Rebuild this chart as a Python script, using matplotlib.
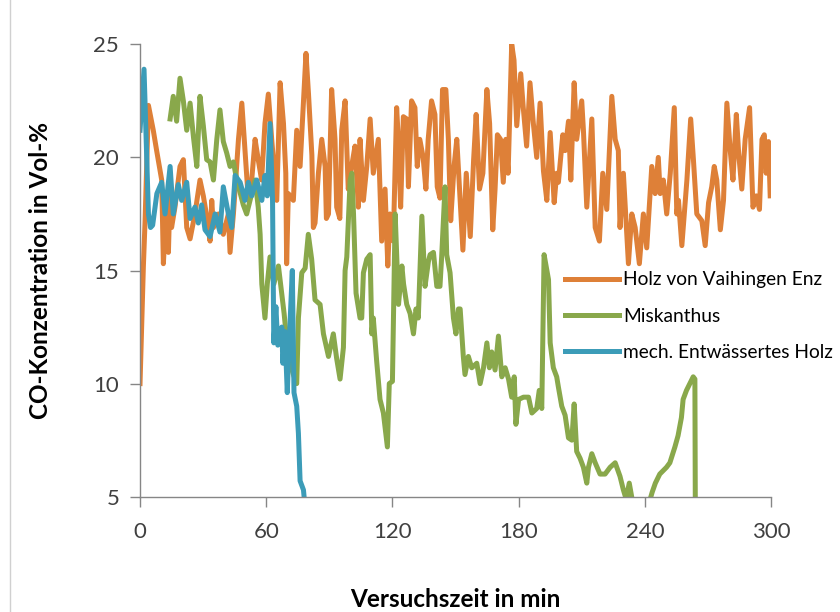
import matplotlib
matplotlib.use("Agg")
import matplotlib.pyplot as plt
from matplotlib.lines import Line2D

plt.rcParams['font.family'] = ['Lato', 'DejaVu Sans']

# Holz von Vaihingen Enz
holz_t = [0, 1.6, 2.4, 4.0, 6.3, 7.9, 10.3, 11.1, 12.3, 13.5, 14.3, 15.0, 16.6, 19.0, 20.6,
          22.2, 23.8, 26.1, 28.5, 30.1, 31.7, 33.3, 34.1, 34.9, 37.3, 39.6, 42.0, 42.8, 44.4,
          46.8, 48.4, 49.9, 51.5, 53.1, 54.7, 56.2, 57.8, 59.4, 61.0, 62.6, 65.0, 66.6, 68.2,
          69.3, 69.7, 70.5, 72.9, 74.5, 76.1, 77.7, 78.9, 80.1, 81.7, 82.4, 83.2, 84.8, 86.4,
          88.0, 88.6, 89.6, 91.1, 92.7, 93.5, 95.0, 95.9, 97.5, 99.0, 100.6, 102.2, 103.8,
          104.6, 106.2, 107.8, 109.4, 110.9, 113.3, 114.9, 116.5, 117.8, 118.8, 120.4, 122.0,
          122.8, 123.9, 125.2, 126.8, 127.6, 129.1, 130.7, 131.8, 133.0, 134.6, 135.9, 137.0,
          138.6, 140.2, 141.3, 142.6, 143.8, 145.4, 146.6, 147.7, 149.3, 150.6, 151.9, 153.5,
          155.1, 157.0, 158.6, 159.8, 161.4, 163.0, 164.9, 166.2, 167.7, 168.8, 169.9, 171.4,
          172.7, 173.9, 175.0, 176.7, 177.8, 179.1, 181.0, 182.2, 183.8, 185.4, 187.0, 188.6,
          190.2, 191.8, 193.4, 195.0, 196.9, 198.1, 198.9, 201.0, 202.1, 203.7, 204.8, 206.4,
          207.6, 210.0, 210.8, 212.4, 214.8, 216.4, 218.4, 220.0, 221.9, 224.3, 225.9, 227.4,
          228.2, 229.8, 232.2, 233.8, 235.4, 237.4, 239.3, 240.9, 243.3, 244.9, 246.4, 247.3,
          248.8, 250.4, 252.1, 254.0, 255.2, 256.0, 257.6, 260.0, 261.8, 263.1, 264.7, 267.1,
          268.7, 270.3, 271.8, 273.0, 274.2, 275.9, 277.4, 279.0, 280.6, 281.9, 283.5, 284.6,
          286.1, 287.7, 289.8, 291.4, 293.0, 294.5, 295.7, 296.8, 297.7, 298.8, 299.6]
holz_co = [10.0, 15.2, 17.2, 22.3, 21.2, 20.3, 19.0, 15.3, 17.5, 15.8, 18.6, 16.9, 17.8, 19.6, 19.9,
           16.9, 16.4, 17.5, 19.0, 18.3, 17.4, 16.3, 18.1, 16.9, 17.5, 16.6, 17.5, 15.8, 17.5,
           20.8, 22.4, 20.3, 18.1, 19.0, 20.8, 19.9, 19.0, 21.5, 22.8, 20.8, 18.1, 23.3, 21.5,
           19.3, 15.3, 18.4, 18.1, 21.2, 19.6, 22.5, 24.6, 22.8, 20.1, 16.9, 17.1, 19.3, 20.8,
           19.6, 17.3, 17.5, 23.0, 20.8, 17.8, 17.3, 21.2, 22.5, 18.6, 19.6, 20.5, 17.8,
           20.8, 18.1, 19.6, 21.7, 19.3, 20.8, 16.3, 18.6, 15.2, 17.5, 16.3, 22.2,
           20.8, 17.8, 21.8, 21.7, 18.7, 22.5, 22.2, 19.6, 20.8, 20.0, 18.6, 20.8,
           22.5, 21.9, 18.7, 18.2, 23.0, 23.0, 20.8, 17.2, 19.6, 20.8, 18.6, 15.9,
           19.3, 16.5, 19.9, 21.9, 18.6, 19.3, 23.0, 21.5, 16.8, 18.6, 21.0, 20.8,
           18.9, 20.8, 19.3, 25.0, 24.3, 21.4, 23.7, 22.2, 20.5, 23.3, 21.5, 20.0,
           22.4, 19.4, 18.1, 21.1, 18.0, 19.3, 18.9, 21.0, 20.3, 21.6, 19.0, 23.3,
           20.8, 22.5, 21.2, 17.8, 21.7, 16.9, 16.3, 19.3, 17.7, 22.7, 20.8, 20.3,
           16.9, 19.3, 15.3, 17.5, 16.9, 15.3, 17.5, 16.0, 19.6, 18.4, 20.0, 18.4,
           19.0, 17.5, 19.3, 22.2, 17.5, 18.1, 16.1, 19.0, 21.7, 19.9, 17.5, 17.2,
           16.1, 18.0, 18.7, 19.6, 19.0, 16.8, 18.1, 22.4, 20.3, 19.0, 21.9, 20.2,
           18.6, 20.8, 22.2, 17.8, 18.3, 17.7, 20.8, 21.0, 19.3, 20.7, 18.3]

# Miskanthus
misk_t = [14.3, 15.8, 17.4, 19.0, 20.6, 22.2, 23.8, 25.4, 27.0, 28.5, 30.1, 31.7, 33.3, 34.9,
          36.5, 38.0, 39.6, 41.2, 42.8, 44.4, 46.0, 49.1, 50.7, 52.3, 54.7, 56.2, 57.1, 57.9,
          59.4, 60.5, 61.8, 63.6, 65.8, 68.5, 70.5, 72.9, 74.5, 75.3, 76.9, 78.5, 80.0, 81.6,
          83.2, 85.6, 87.2, 89.6, 91.9, 93.5, 95.1, 96.7, 97.5, 98.3, 99.9, 100.7, 101.5,
          102.7, 104.6, 105.4, 106.2, 107.8, 109.4, 110.2, 110.9, 112.5, 114.1, 115.7, 117.6,
          118.5, 120.0, 121.3, 122.9, 124.5, 125.3, 126.8, 128.4, 130.0, 131.2, 132.3, 134.0,
          135.5, 137.1, 137.9, 139.5, 141.1, 142.6, 143.4, 145.0, 145.8, 147.4, 149.0, 150.2,
          151.4, 152.2, 153.7, 154.5, 156.1, 157.7, 160.1, 161.7, 163.3, 164.9, 166.1, 167.2,
          168.8, 170.4, 172.0, 173.6, 175.2, 176.7, 177.9, 178.7, 180.0, 182.3, 184.7, 186.3,
          188.6, 189.8, 191.0, 192.1, 194.2, 195.0, 196.5, 198.1, 198.9, 200.5, 202.1, 203.7,
          205.3, 206.4, 207.6, 209.2, 210.8, 212.4, 213.2, 214.8, 216.4, 218.7, 221.1, 223.5,
          225.9, 228.2, 229.8, 231.1, 232.6, 234.5, 241.0, 243.5, 245.0, 247.1, 250.3, 251.9,
          254.3, 255.8, 257.4, 258.2, 259.8, 261.4, 263.0, 263.8, 264.0]
misk_co = [21.7, 22.7, 21.6, 23.5, 22.5, 21.2, 22.4, 20.9, 19.6, 22.7, 21.4, 19.9, 19.8, 19.0,
           20.8, 22.1, 20.7, 20.2, 19.6, 19.8, 19.0, 17.9, 17.5, 18.1, 19.0, 17.8, 16.6, 14.4,
           12.9, 14.4, 15.6, 14.4, 15.2, 13.1, 11.2, 10.4, 10.0, 12.9, 14.9, 15.1, 16.6, 15.5,
           13.7, 13.5, 12.2, 11.2, 12.2, 11.1, 10.2, 11.6, 15.0, 15.6, 19.0, 19.3, 17.5,
           14.0, 12.9, 12.9, 14.9, 15.5, 15.7, 12.2, 12.9, 11.0, 9.3, 8.7, 7.2,
           10.0, 10.1, 17.5, 13.5, 15.2, 14.4, 13.5, 13.1, 12.2, 13.3, 12.9, 17.4,
           14.3, 15.4, 15.7, 15.8, 14.3, 14.3, 15.6, 18.7, 15.7, 14.9, 12.9, 12.2,
           13.3, 13.3, 11.2, 10.4, 11.2, 10.7, 10.9, 10.0, 10.7, 11.8, 10.7, 11.4,
           10.6, 12.1, 10.3, 10.7, 10.2, 9.4, 10.3, 8.2, 9.3, 9.4, 9.4, 8.7,
           8.9, 9.7, 8.9, 15.7, 14.6, 11.8, 10.7, 10.3, 9.85, 9.0, 8.6, 7.6,
           7.5, 9.1, 7.0, 6.7, 6.3, 5.6, 6.3, 6.9, 6.5, 6.0, 6.0, 6.3,
           6.5, 5.9, 5.3, 4.9, 5.6, 4.6, 4.4, 5.2, 5.6, 6.0, 6.3, 6.5,
           7.2, 7.7, 8.5, 9.3, 9.7, 10.0, 10.3, 10.2, 4.5]

# mech. Entwässertes Holz
mech_t = [0, 1.9, 4.0, 5.0, 6.0, 8.0, 10.3, 11.9, 14.3, 15.8, 18.2, 19.8, 22.2, 23.8, 26.1,
          27.7, 29.3, 30.9, 33.3, 35.7, 38.0, 39.6, 42.0, 43.6, 45.2, 47.6, 49.9, 51.5, 53.1,
          55.5, 57.9, 59.4, 60.5, 61.8, 63.0, 63.6, 64.6, 65.5, 67.4, 67.9, 68.9, 70.0, 71.0,
          72.4, 73.2, 74.5, 75.3, 76.1, 77.7, 78.0]
mech_co = [21.2, 23.9, 17.5, 16.9, 17.0, 18.4, 18.9, 17.5, 19.6, 17.5, 18.8, 18.1, 18.9, 17.3, 17.8,
           17.1, 17.9, 16.8, 16.5, 17.5, 16.7, 18.7, 17.5, 16.9, 19.2, 18.9, 18.1, 18.9, 18.3,
           19.0, 18.1, 19.2, 18.3, 21.5, 18.1, 11.8, 13.4, 11.7, 12.5, 10.9, 12.3, 9.6, 12.0,
           15.0, 9.6, 9.0, 7.8, 5.7, 5.3, 5.0]

series = [
    (holz_t, holz_co, "Holz von Vaihingen Enz", "#DE8038"),
    (misk_t, misk_co, "Miskanthus", "#89A84B"),
    (mech_t, mech_co, "mech. Entwässertes Holz", "#3C9CB8"),
]

fig = plt.figure(figsize=(8.4, 6.12), dpi=100)
ax = fig.add_axes([0.1667, 0.1884, 0.7512, 0.7392])

for t, co, name, col in series:
    ax.plot(t, co, color=col, lw=3.6, label=name, solid_joinstyle='round')

ax.set_xlim(0, 300)
ax.set_ylim(5, 25)
ax.set_xticks([0, 60, 120, 180, 240, 300])
ax.set_yticks([5, 10, 15, 20, 25])

for s in ['top', 'right']:
    ax.spines[s].set_visible(False)
for s in ['left', 'bottom']:
    ax.spines[s].set_color('#868686')
    ax.spines[s].set_linewidth(1.0)
ax.tick_params(axis='both', colors='#868686', labelcolor='#404040', labelsize=16,
               length=7, width=1.0)
ax.tick_params(axis='y', pad=8)
ax.tick_params(axis='x', pad=11)

ax.set_xlabel("Versuchszeit in min", fontsize=17.5, fontweight='bold', labelpad=33)
ax.set_ylabel("CO-Konzentration in Vol-%", fontsize=17.5, fontweight='bold', labelpad=30)

ax.legend(loc='upper left', bbox_to_anchor=(0.662, 0.515), frameon=False, fontsize=13.8,
          handlelength=2.8, handletextpad=0.2, labelspacing=1.0, borderaxespad=0)

# thin frame edge on the left side
fig.add_artist(Line2D([10 / 840, 10 / 840], [0, 1], color='#D0D0D0', lw=1))

fig.savefig("out.png", dpi=100)
